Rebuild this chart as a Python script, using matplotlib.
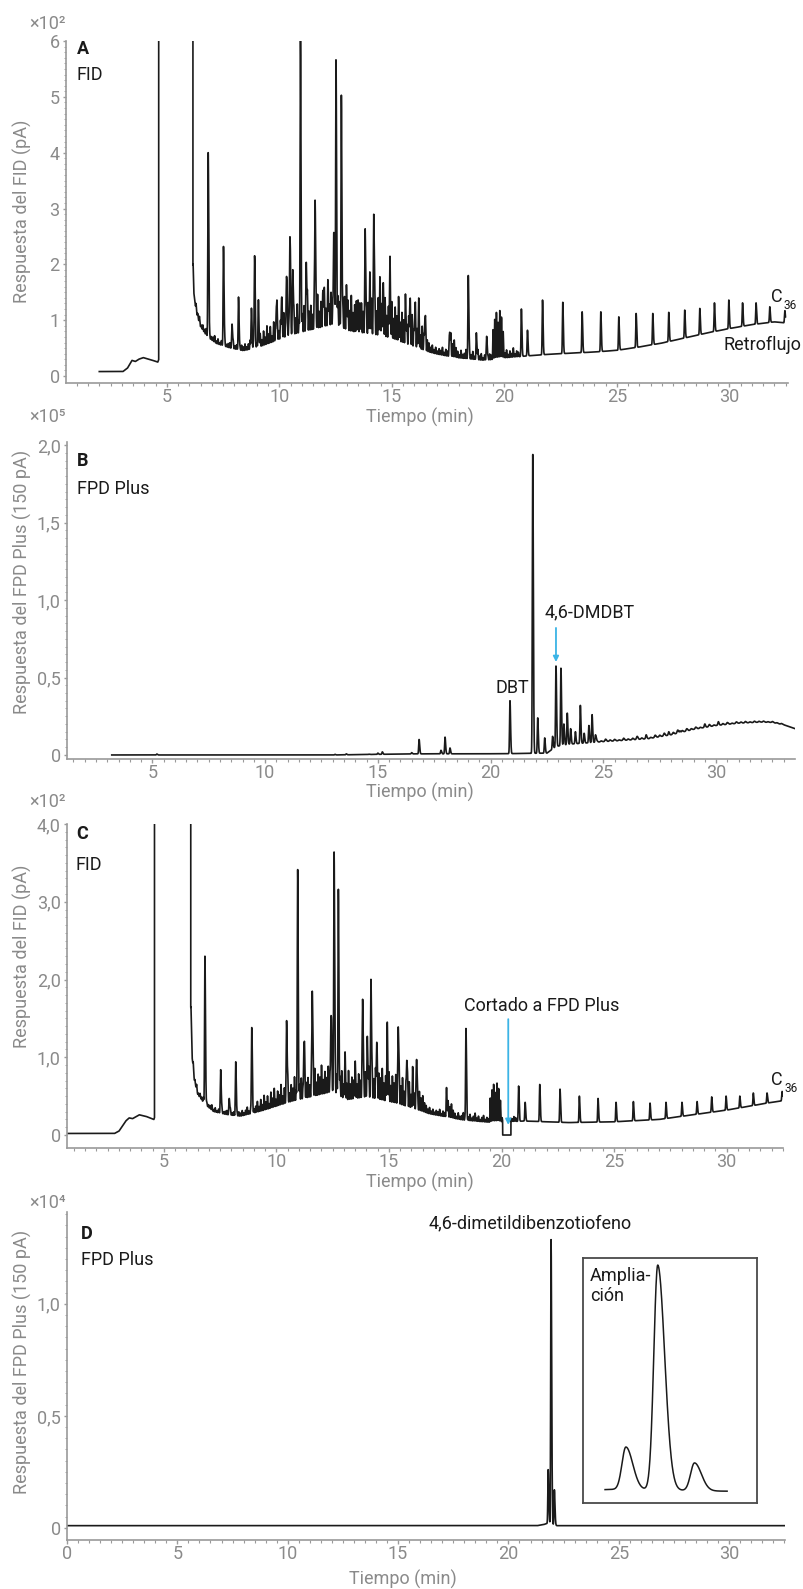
import numpy as np
import matplotlib.pyplot as plt

plt.rcParams['font.family'] = ['Roboto', 'DejaVu Sans']

W, H = 804, 1589
ink = '#1a1a1a'
grey = '#8a8a8a'
blue = '#3bb4e6'

# ---------- A : FID, backflush (x10^2 pA)
a_base_t = [2.0, 3.05, 3.25, 3.45, 3.6, 3.75, 3.95, 4.3, 4.6,
            6.17, 6.2, 6.3, 6.5, 6.8, 7.2, 7.8, 8.4,
            9.0, 9.5, 10.0, 10.5, 11.0, 11.5, 12.0, 12.5, 13.0,
            13.5, 14.0, 14.5, 15.0, 15.5, 16.0, 16.5, 17.0, 17.5, 18.0, 18.5, 19.0, 19.5,
            20.0, 21.0, 22.0, 23.0, 24.0, 25.0, 26.0, 27.0, 28.0, 29.0, 30.0, 31.0, 32.0, 32.5]
a_base_v = [0.08, 0.08, 0.14, 0.28, 0.26, 0.3, 0.33, 0.29, 0.25,
            2.0, 1.5, 1.15, 0.88, 0.7, 0.58, 0.5, 0.45,
            0.5, 0.57, 0.65, 0.72, 0.77, 0.82, 0.87, 0.92, 0.8,
            0.76, 0.74, 0.7, 0.66, 0.58, 0.51, 0.44, 0.39, 0.35, 0.32, 0.3, 0.28, 0.29,
            0.32, 0.36, 0.39, 0.41, 0.43, 0.46, 0.52, 0.59, 0.68, 0.77, 0.85, 0.92, 0.97, 0.95]
a_solvent = (4.64, 6.16)
a_minor_scale = 1.2
a_peak_t = [6.84, 7.52, 7.9, 8.19, 8.76, 8.9, 9.07, 9.87, 10.1, 10.32, 10.47, 10.6, 10.94,
            11.2, 11.59, 11.95, 12.17, 12.42, 12.52, 12.76, 12.99, 13.13, 13.43, 13.58,
            13.82, 14.02, 14.2, 14.47, 14.61, 14.91, 15.31, 15.62, 15.8, 16.02, 16.19,
            16.47, 17.58, 18.4, 18.76, 19.22, 21.03]
a_peak_top = [4.0, 2.32, 0.93, 1.41, 1.21, 2.15, 1.36, 1.24, 1.39, 1.78, 2.49, 1.9, 6.03,
              2.03, 3.15, 1.48, 1.63, 2.56, 5.66, 5.02, 1.6, 1.06, 1.33, 1.3,
              2.59, 1.84, 2.89, 1.76, 1.48, 2.02, 1.33, 1.31, 1.27, 1.15, 1.27,
              1.0, 0.77, 1.8, 0.77, 0.7, 0.82]

# n-alkane series (same retention times in A and C)
alk_t = [20.76, 21.70, 22.60, 23.46, 24.29, 25.09, 25.86, 26.60, 27.31,
         28.02, 28.69, 29.34, 29.98, 30.59, 31.19, 31.80, 32.47]
a_alk_top = [1.20, 1.36, 1.32, 1.15, 1.15, 1.06, 1.12, 1.12, 1.14,
             1.18, 1.21, 1.31, 1.36, 1.31, 1.31, 1.24, 1.17]

# unresolved hump: small peaks every 0.075 min from 6.3 min (height above baseline)
minor_t0, minor_dt = 6.3, 0.075
a_minor = [0.12, 0.06, 0.1, 0.04, 0.08, 0.05, 0.1, 0.03, 0.07, 0.05,
           0.06, 0.1, 0.04, 0.08, 0.03, 0.07, 0.05, 0.09, 0.04, 0.06,
           0.08, 0.03, 0.1, 0.05, 0.07, 0.12, 0.04, 0.08, 0.06, 0.1,
           0.05, 0.09, 0.14, 0.06, 0.1, 0.18, 0.08, 0.12, 0.2, 0.1,
           0.22, 0.12, 0.28, 0.15, 0.25, 0.1, 0.3, 0.18, 0.35, 0.14,
           0.28, 0.2, 0.38, 0.16, 0.3, 0.22, 0.42, 0.18, 0.32, 0.25,
           0.45, 0.2, 0.35, 0.28, 0.4, 0.22, 0.5, 0.3, 0.38, 0.24,
           0.45, 0.3, 0.52, 0.26, 0.4, 0.34, 0.55, 0.28, 0.42, 0.3,
           0.5, 0.36, 0.58, 0.3, 0.44, 0.38, 0.5,
           0.35, 0.5, 0.28, 0.45, 0.32, 0.55, 0.3, 0.42, 0.36, 0.5,
           0.28, 0.46, 0.34, 0.52, 0.3, 0.48, 0.36, 0.55, 0.32, 0.45,
           0.38, 0.58, 0.3, 0.5, 0.42, 0.6, 0.34, 0.48, 0.4, 0.56,
           0.32, 0.5, 0.38, 0.54, 0.3, 0.46, 0.36, 0.52, 0.28, 0.44,
           0.34, 0.48, 0.26, 0.42, 0.3, 0.45, 0.22, 0.36, 0.25, 0.3, 0.18,
           0.14, 0.08, 0.12, 0.06, 0.1, 0.05, 0.09, 0.07, 0.12, 0.05, 0.1, 0.08,
           0.22, 0.3, 0.2, 0.26, 0.15,
           0.1, 0.05, 0.12, 0.06, 0.08, 0.14, 0.05, 0.1, 0.07, 0.12,
           0.05, 0.09, 0.15, 0.06, 0.1, 0.04, 0.08, 0.12, 0.05, 0.09, 0.07,
           0.45, 0.6, 0.7, 0.55, 0.72, 0.62, 0.4,
           0.08, 0.12, 0.05, 0.1, 0.06, 0.14, 0.05, 0.09, 0.07]

# ---------- B : FPD Plus (x10^5)
b_base_t = [3.2, 13.0, 15.0, 16.5, 20.5, 22.5, 22.9, 23.5, 24.5, 25.0, 26.0, 27.0,
            28.0, 29.0, 30.0, 31.0, 32.0, 32.5, 33.0, 33.5]
b_base_v = [0.0, 0.0, 0.004, 0.007, 0.008, 0.012, 0.055, 0.07, 0.08, 0.086, 0.095, 0.105,
            0.13, 0.165, 0.19, 0.205, 0.212, 0.21, 0.195, 0.17]
b_peak_t = [5.2, 13.1, 13.6, 14.6, 15.0, 15.2, 16.0, 16.5, 16.83, 17.8,
            17.98, 18.2, 20.86, 21.87, 22.09, 22.4, 22.75, 22.9, 23.12, 23.25,
            23.4, 23.55, 23.76, 23.98, 24.15, 24.36, 24.5, 24.65, 26.9, 27.9,
            28.4, 29.5, 30.1]
b_peak_top = [0.006, 0.004, 0.007, 0.005, 0.012, 0.02, 0.006, 0.015, 0.10, 0.03,
              0.115, 0.045, 0.35, 1.945, 0.24, 0.11, 0.12, 0.574, 0.56, 0.2,
              0.27, 0.17, 0.15, 0.32, 0.14, 0.19, 0.26, 0.13, 0.13, 0.15,
              0.155, 0.2, 0.215]
b_minor_t0, b_minor_dt = 24.7, 0.2
b_minor = [0.012, 0.006, 0.015, 0.008, 0.01, 0.005, 0.014, 0.007, 0.01, 0.02,
           0.008, 0.012, 0.006, 0.015, 0.01, 0.018, 0.007, 0.012, 0.02, 0.01,
           0.015, 0.008, 0.012, 0.006, 0.01, 0.014, 0.006, 0.01, 0.008, 0.012,
           0.005, 0.01, 0.007, 0.009, 0.005, 0.008, 0.006, 0.007, 0.004, 0.006,
           0.004, 0.005]

# ---------- C : FID with heart-cut (x10^2 pA)
c_base_t = [0.69, 2.8, 3.0, 3.3, 3.45, 3.6, 3.9, 4.2, 4.55,
            6.2, 6.25, 6.35, 6.5, 6.8, 7.2, 7.8, 8.4,
            9.4, 10.6, 12.1, 12.5, 13.1, 14.0, 15.3, 16.8, 18.3, 19.5, 21.0, 23.0,
            25.0, 27.0, 28.0, 30.0, 31.0, 32.0, 32.5]
c_base_v = [0.02, 0.02, 0.05, 0.18, 0.22, 0.21, 0.26, 0.24, 0.2,
            1.65, 1.0, 0.7, 0.52, 0.4, 0.3, 0.26, 0.24,
            0.31, 0.42, 0.52, 0.55, 0.44, 0.48, 0.4, 0.27, 0.19, 0.16, 0.18, 0.16,
            0.17, 0.2, 0.24, 0.32, 0.37, 0.42, 0.44]
c_solvent = (4.58, 6.19)
c_cut = (20.05, 20.42)
c_minor_scale = 0.7
c_peak_t = [6.82, 7.52, 7.9, 8.19, 8.9, 10.45, 10.94, 11.22, 11.59, 12.42, 12.56, 12.75,
            13.04, 13.49, 13.83, 14.04, 14.2, 14.45, 14.92, 15.41, 15.79, 16.05, 16.23,
            17.56, 18.42, 21.05]
c_peak_top = [2.30, 0.84, 0.47, 0.94, 1.38, 1.47, 3.40, 1.18, 1.85, 1.53, 3.64, 3.16,
              1.0, 0.86, 1.74, 1.25, 2.0, 1.18, 1.44, 1.39, 0.96, 0.88, 0.96,
              0.6, 1.37, 0.42]
c_alk_top = [0.63, 0.65, 0.59, 0.50, 0.47, 0.42, 0.43, 0.41, 0.42,
             0.42, 0.43, 0.49, 0.50, 0.50, 0.54, 0.54, 0.56]

# ---------- D : FPD Plus after heart-cut (x10^4)
d_base_t = [0.0, 21.3, 21.6, 21.75, 22.2, 32.5]
d_base_v = [0.01, 0.01, 0.015, 0.02, 0.01, 0.01]
d_peak_t = [21.80, 21.93, 22.08]
d_peak_top = [0.26, 1.29, 0.17]


def px(x, y):
    return x / W, 1 - y / H


def box(l, r, top, bot):
    return [l / W, 1 - bot / H, (r - l) / W, (bot - top) / H]


def bump(t, mu, sl, sr):
    s = np.where(t < mu, sl, sr)
    return np.exp(-0.5 * ((t - mu) / s) ** 2)


def trace(t, base_t, base_v, pk_t, pk_top, minor=None, m0=0, mdt=0, mscale=1.0,
          sig=(0.016, 0.024), msig=0.012):
    y = np.interp(t, base_t, base_v)
    if minor is not None:
        for i, h in enumerate(minor):
            y = y + mscale * h * bump(t, m0 + i * mdt, msig, msig * 1.3)
    y0 = y.copy()
    for tp, top in zip(pk_t, pk_top):
        h = top - np.interp(tp, t, y0)
        y = y + max(h, 0) * bump(t, tp, sig[0], sig[1])
    return y


def style(ax, xlim, ylim, yt, ylab, ymin_step, xt):
    ax.set_xlim(*xlim)
    ax.set_ylim(*ylim)
    for s in ['top', 'right']:
        ax.spines[s].set_visible(False)
    for s in ['left', 'bottom']:
        ax.spines[s].set_color('#9a9a9a')
        ax.spines[s].set_linewidth(1.2)
    ax.set_xticks(xt)
    ax.set_xticks(np.arange(np.ceil(xlim[0] * 2) / 2, xlim[1], 0.5), minor=True)
    ax.set_yticks(yt)
    ax.set_yticklabels(ylab)
    ax.set_yticks(np.arange(0, ylim[1] + 1e-9, ymin_step), minor=True)
    ax.tick_params(axis='x', which='major', length=2.6, width=1, color='#9a9a9a',
                   labelsize=13, labelcolor=grey, pad=0.8)
    ax.tick_params(axis='x', which='minor', length=2.0, width=0.8, color='#9a9a9a')
    ax.tick_params(axis='y', which='major', length=2.5, width=1, color='#9a9a9a',
                   labelsize=13, labelcolor=grey, pad=2)
    ax.tick_params(axis='y', which='minor', length=1.5, width=0.6, color='#9a9a9a')
    ax.patch.set_alpha(0)


fig = plt.figure(figsize=(W / 100, H / 100), dpi=100)

# ---- A
axA = fig.add_axes(box(66, 788, 41, 383))
tA = np.arange(2.0, 32.5, 0.002)
yA = trace(tA, a_base_t, a_base_v, a_peak_t + alk_t, a_peak_top + a_alk_top,
           a_minor, minor_t0, minor_dt, mscale=a_minor_scale)
yA = np.where((tA >= a_solvent[0]) & (tA <= a_solvent[1]), 30, yA)
axA.plot(tA, yA, color=ink, lw=1.2)
style(axA, (0.52, 32.61), (-0.125, 6.0), range(7), [str(i) for i in range(7)], 0.1,
      [5, 10, 15, 20, 25, 30])
axA.text(32.12, 1.415, 'C', fontsize=13, color=ink, ha='center', va='center', clip_on=False)
axA.text(32.72, 1.27, '36', fontsize=8.5, color=ink, ha='center', va='center', clip_on=False)
axA.text(31.46, 0.55, 'Retroflujo', fontsize=13, color=ink, ha='center', va='center',
         clip_on=False)

# ---- B
axB = fig.add_axes(box(67, 795, 442, 759))
tB = np.arange(3.2, 33.5, 0.004)
yB = trace(tB, b_base_t, b_base_v, b_peak_t, b_peak_top, b_minor, b_minor_t0, b_minor_dt,
           sig=(0.018, 0.026), msig=0.03)
axB.plot(tB, yB, color=ink, lw=1.2)
style(axB, (1.215, 33.5), (-0.026, 2.02), [0, 0.5, 1.0, 1.5, 2.0],
      ['0', '0,5', '1,0', '1,5', '2,0'], 0.05, [5, 10, 15, 20, 25, 30])
axB.text(20.95, 0.43, 'DBT', fontsize=13, color=ink, ha='center', va='center')
axB.text(24.41, 0.92, '4,6-DMDBT', fontsize=13, color=ink, ha='center', va='center')
axB.annotate('', xy=(22.9, 0.6), xytext=(22.9, 0.82),
             arrowprops=dict(arrowstyle='-|>', color=blue, lw=1.3, mutation_scale=8,
                             shrinkA=0, shrinkB=0))

# ---- C
axC = fig.add_axes(box(67, 783, 824, 1148))
tC = np.arange(0.69, 32.5, 0.002)
yC = trace(tC, c_base_t, c_base_v, c_peak_t + alk_t, c_peak_top + c_alk_top,
           a_minor, minor_t0, minor_dt, mscale=c_minor_scale)
yC = np.where((tC >= c_solvent[0]) & (tC <= c_solvent[1]), 30, yC)
yC = np.where((tC >= c_cut[0]) & (tC <= c_cut[1]), 0.0, yC)
axC.plot(tC, yC, color=ink, lw=1.2)
style(axC, (0.69, 32.51), (-0.167, 4.0), [0, 1, 2, 3, 4],
      ['0', '1,0', '2,0', '3,0', '4,0'], 0.1, [5, 10, 15, 20, 25, 30])
axC.text(21.8, 1.66, 'Cortado a FPD Plus', fontsize=13, color=ink, ha='center', va='center')
axC.annotate('', xy=(20.3, 0.13), xytext=(20.3, 1.49),
             arrowprops=dict(arrowstyle='-|>', color=blue, lw=1.3, mutation_scale=8,
                             shrinkA=0, shrinkB=0))
axC.text(32.24, 0.71, 'C', fontsize=13, color=ink, ha='center', va='center', clip_on=False)
axC.text(32.85, 0.6, '36', fontsize=8.5, color=ink, ha='center', va='center', clip_on=False)

# ---- D
axD = fig.add_axes(box(67, 785, 1212, 1540))
tD = np.arange(0.0, 32.5, 0.004)
yD = trace(tD, d_base_t, d_base_v, d_peak_t, d_peak_top, sig=(0.016, 0.028))
axD.plot(tD, yD, color=ink, lw=1.2)
style(axD, (0.0, 32.53), (-0.054, 1.41), [0, 0.5, 1.0], ['0', '0,5', '1,0'], 0.05,
      [0, 5, 10, 15, 20, 25, 30])
axD.text(20.98, 1.36, '4,6-dimetildibenzotiofeno', fontsize=13, color=ink,
         ha='center', va='center')

# inset (zoom on the heart-cut peak)
axI = fig.add_axes(box(583, 757, 1258, 1503))
tI = np.arange(21.715, 22.213, 0.001)
yI = trace(tI, d_base_t, d_base_v, d_peak_t, d_peak_top, sig=(0.016, 0.028))
axI.plot(tI, yI, color=ink, lw=1.1)
axI.set_xlim(21.625, 22.335)
axI.set_ylim(-0.057, 1.33)
axI.set_xticks([])
axI.set_yticks([])
for s in axI.spines.values():
    s.set_color('#4a4a4a')
    s.set_linewidth(1.3)
axI.text(0.04, 0.965, 'Amplia-\nción', transform=axI.transAxes, fontsize=13, color=ink,
         ha='left', va='top', linespacing=1.15)

# ---- panel tags, multipliers, axis titles
tags = [('A', 'FID', 77, 49, 75), ('B', 'FPD Plus', 77, 461, 489),
        ('C', 'FID', 76, 834, 865), ('D', 'FPD Plus', 81, 1234, 1260)]
for tag, det, x, y1, y2 in tags:
    fig.text(*px(x, y1), tag, fontsize=13, fontweight='bold', color=ink, va='center')
    fig.text(*px(x, y2), det, fontsize=13, color=ink, va='center')

mult = [('×10²', 24), ('×10⁵', 417), ('×10²', 802), ('×10⁴', 1203)]
for s, y in mult:
    fig.text(*px(47, y), s, fontsize=13, color=grey, ha='center', va='center')

ylabs = [('Respuesta del FID (pA)', 211), ('Respuesta del FPD Plus (150 pA)', 582),
         ('Respuesta del FID (pA)', 956), ('Respuesta del FPD Plus (150 pA)', 1362)]
for s, y in ylabs:
    fig.text(*px(22, y), s, fontsize=13, color=grey, rotation=90, ha='center', va='center')

for x, y in [(420, 417), (420, 792), (420, 1182), (403, 1579)]:
    fig.text(*px(x, y), 'Tiempo (min)', fontsize=13, color=grey, ha='center', va='center')

fig.savefig('out.png', dpi=100)
